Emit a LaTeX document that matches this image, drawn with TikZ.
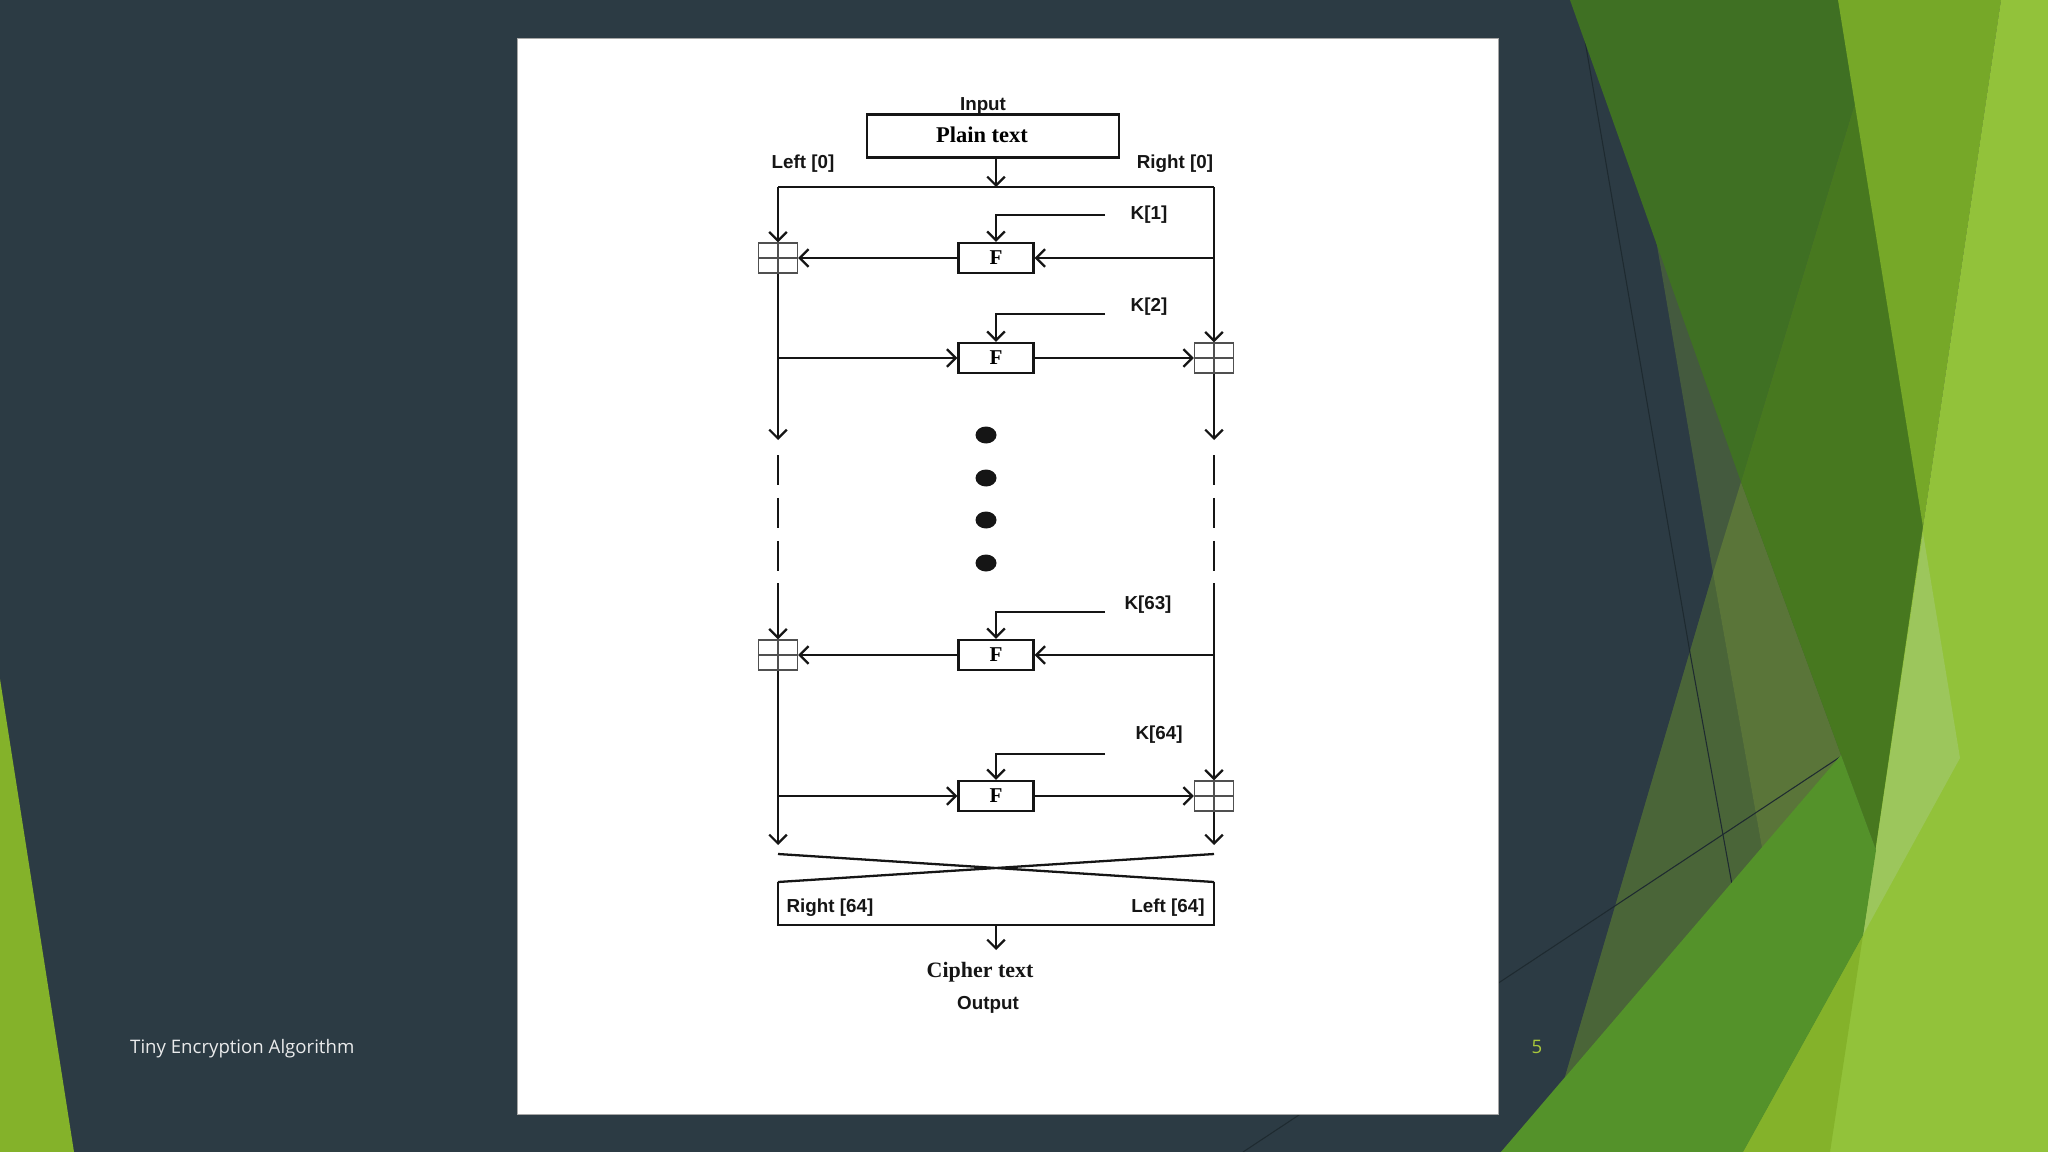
\documentclass[tikz,border=0pt]{standalone}
\usepackage{fontspec}
\usepackage{xcolor}
\usetikzlibrary{arrows.meta, positioning}
\newfontfamily\lblfont{Liberation Sans}
\newfontfamily\txtfont{Liberation Serif}
\newfontfamily\slidefont{Open Sans}
\definecolor{slate}{HTML}{2C3B44}
\definecolor{lineink}{HTML}{1E2A30}
\definecolor{grayolive}{HTML}{445A3E}
\definecolor{olivedark}{HTML}{4A6538}
\definecolor{olive}{HTML}{5A7539}
\definecolor{darkgreen}{HTML}{3F7023}
\definecolor{midgreen}{HTML}{47781F}
\definecolor{leafgreen}{HTML}{54922A}
\definecolor{grassgreen}{HTML}{76A828}
\definecolor{lime}{HTML}{92C23A}
\definecolor{limedark}{HTML}{84B22A}
\definecolor{limelight}{HTML}{9CC65C}
\definecolor{pagenum}{HTML}{A9C83B}
\definecolor{ink}{HTML}{151515}
\tikzset{
    >={Straight Barb[length=5pt,width=10pt]}, % open arrow heads
    wire/.style={draw=ink, line width=1.3pt},
    fnode/.style={draw=ink, line width=1.3pt, minimum width=1.5cm, minimum height=0.6cm, inner sep=0pt,
        font=\txtfont\bfseries\fontsize{12}{12}\selectfont},
    xorbox/.style={draw=ink!75, line width=0.7pt, minimum width=0.78cm, minimum height=0.6cm, inner sep=0pt,
        path picture={\draw[ink!75, line width=0.7pt]
            (path picture bounding box.north) -- (path picture bounding box.south)
            (path picture bounding box.west) -- (path picture bounding box.east);}},
    lbl/.style={inner sep=0pt, text=ink, font=\lblfont\bfseries\fontsize{10.7}{12}\selectfont},
    dashes/.style={wire, dash pattern=on 0.6cm off 0.26cm},
}
\tikzstyle{arrow} = [wire, ->]

\begin{document}
\begin{tikzpicture}[x=0.02cm, y=-0.02cm]
    \useasboundingbox (0,0) rectangle (2048,1152);

    % Slide background
    \fill[slate] (0,0) rectangle (2048,1152);
    \fill[limedark] (0,679) -- (74,1152) -- (0,1152) -- cycle;
    \fill[grayolive] (1615,0) -- (2048,0) -- (2048,1152) -- (1501,1152) -- (1565,1077) -- (1713,573) -- cycle;
    \fill[olivedark] (1713,573) -- (1762,848) -- (1565,1077) -- cycle;
    \fill[olive] (1741,482) -- (1841,755) -- (1762,848) -- (1713,573) -- cycle;
    \draw[lineink, line width=0.6pt] (1578,0) -- (1690,653) -- (1733,890);
    \draw[lineink, line width=0.6pt] (1243,1152) -- (1840,757);
    \fill[darkgreen] (1570,0) -- (1886,0) -- (1741,482) -- cycle;
    \fill[midgreen] (1886,0) -- (1923,527) -- (1876,850) -- (1841,755) -- (1741,482) -- cycle;
    \fill[grassgreen] (1838,0) -- (2001,0) -- (1923,527) -- cycle;
    \fill[lime] (2001,0) -- (2048,0) -- (2048,1152) -- (1743,1152) -- (1863,935) -- (1923,527) -- cycle;
    \fill[limedark] (1863,935) -- (1830,1152) -- (1743,1152) -- cycle;
    \fill[limelight] (1923,533) -- (1960,758) -- (1863,935) -- cycle;
    \fill[leafgreen] (1501,1152) -- (1841,755) -- (1876,850) -- (1863,935) -- (1743,1152) -- cycle;

    % Page
    \fill[white, draw=gray!70, line width=0.5pt] (517,38) rectangle (1498,1114);

    \node[anchor=west, text=white!90!slate, font=\slidefont\fontsize{10.6}{12}\selectfont] (footer) at (124,1049) {Tiny Encryption Algorithm};
    \node[text=pagenum, font=\slidefont\fontsize{10.6}{12}\selectfont] (pagenr) at (1537,1047) {5};

    % Input
    \node[draw=ink, line width=1.3pt, minimum width=5.04cm, minimum height=0.86cm, inner sep=0pt,
        font=\txtfont\bfseries\fontsize{12.8}{14}\selectfont] (plain) at (993,136) {\raisebox{2pt}{Plain text}\hspace*{0.44cm}};
    \node[lbl, xshift=-0.2cm] (input) [above=-0.02cm of plain] {Input};
    \node[lbl] (left0) at (803,164) {Left [0]};
    \node[lbl] (right0) at (1175,164) {Right [0]};

    \coordinate (tl) at (778,187);
    \coordinate (tm) at (996,187);
    \coordinate (tr) at (1214,187);
    \draw[arrow] (tm |- plain.south) -- (tm);
    \draw[wire] (tl) -- (tr);

    % Rounds 1 and 2
    \node[fnode] (f1) at (996,258) {F};
    \node[xorbox] (x1) at (778,258) {};
    \node[fnode] (f2) at (996,358) {F};
    \node[xorbox] (x2) at (1214,358) {};
    \node[lbl] (key1) at (1149,215) {K[1]};
    \node[lbl] (key2) at (1149,307) {K[2]};
    \coordinate (k1) at (1105,215);
    \coordinate (k2) at (1105,314);
    \coordinate (l1) at (778,440);
    \coordinate (r1) at (1214,440);

    \draw[arrow] (k1) -| (f1);
    \draw[arrow] (tr |- f1) -- (f1);
    \draw[arrow] (f1) -- (x1);
    \draw[arrow] (tl) -- (x1);
    \draw[arrow] (x1) -- (l1);
    \draw[arrow] (k2) -| (f2);
    \draw[arrow] (tl |- f2) -- (f2);
    \draw[arrow] (f2) -- (x2);
    \draw[arrow] (tr) -- (x2);
    \draw[arrow] (x2) -- (r1);

    % Skipped rounds
    \coordinate (l2) at (778,455);
    \coordinate (l3) at (778,571);
    \coordinate (r2) at (1214,455);
    \coordinate (r3) at (1214,571);
    \draw[dashes] (l2) -- (l3);
    \draw[dashes] (r2) -- (r3);
    \foreach \y in {435,478,520,563}
        \fill[ink] (986,\y) ellipse [x radius=0.21cm, y radius=0.17cm];

    % Rounds 63 and 64
    \node[fnode] (f3) at (996,655) {F};
    \node[xorbox] (x3) at (778,655) {};
    \node[fnode] (f4) at (996,796) {F};
    \node[xorbox] (x4) at (1214,796) {};
    \node[lbl] (key3) at (1148,605) {K[63]};
    \node[lbl] (key4) at (1159,735) {K[64]};
    \coordinate (k3) at (1105,612);
    \coordinate (k4) at (1105,754);
    \coordinate (l4) at (778,583);
    \coordinate (r4) at (1214,583);
    \coordinate (l5) at (778,845);
    \coordinate (r5) at (1214,845);

    \draw[arrow] (k3) -| (f3);
    \draw[arrow] (r4 |- f3) -- (f3);
    \draw[arrow] (f3) -- (x3);
    \draw[arrow] (l4) -- (x3);
    \draw[arrow] (x3) -- (l5);
    \draw[arrow] (k4) -| (f4);
    \draw[arrow] (l4 |- f4) -- (f4);
    \draw[arrow] (f4) -- (x4);
    \draw[arrow] (r4) -- (x4);
    \draw[arrow] (x4) -- (r5);

    % Final swap and output
    \coordinate (c1) at (778,854);
    \coordinate (c2) at (1214,854);
    \coordinate (c3) at (778,882);
    \coordinate (c4) at (1214,882);
    \coordinate (c5) at (778,925);
    \coordinate (c6) at (1214,925);
    \coordinate (ob) at (996,925);
    \coordinate (oe) at (996,950);
    \draw[wire] (c1) -- (c4) (c2) -- (c3);
    \draw[wire] (c3) -- (c5) -- (c6) -- (c4);
    \node[lbl] (right64) at (830,908) {Right [64]};
    \node[lbl] (left64) at (1168,908) {Left [64]};
    \draw[arrow] (ob) -- (oe);

    \node[inner sep=0pt, text=ink, font=\txtfont\bfseries\fontsize{12.5}{14}\selectfont] (cipher) at (980,972) {Cipher text};
    \node[lbl, xshift=0.16cm] (output) [below=0.28cm of cipher] {Output};
\end{tikzpicture}
\end{document}
